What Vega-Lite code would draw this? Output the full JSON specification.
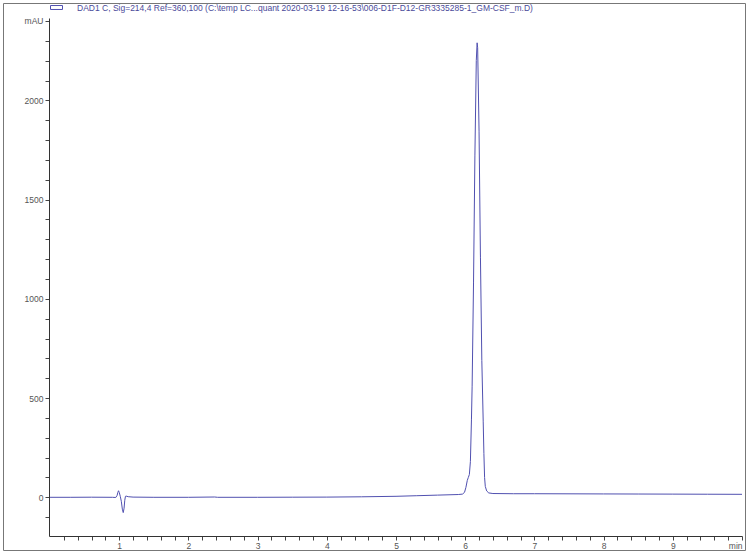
{
  "$schema": "https://vega.github.io/schema/vega-lite/v6.json",
  "width": 742,
  "height": 547,
  "autosize": {"type": "none"},
  "padding": {"left": 3, "top": 3, "right": 5, "bottom": 3},
  "background": "white",
  "config": {
    "view": {"stroke": "#777777", "strokeWidth": 1},
    "font": "Liberation Sans"
  },
  "data": {
    "values": [
      {"t": 0, "mAU": 0}, {"t": 0.3, "mAU": 0}, {"t": 0.6, "mAU": 0.5}, {"t": 0.9, "mAU": 0},
      {"t": 0.95, "mAU": -1}, {"t": 0.97, "mAU": 10}, {"t": 0.98, "mAU": 25}, {"t": 0.99, "mAU": 33},
      {"t": 1.0, "mAU": 25}, {"t": 1.015, "mAU": 5}, {"t": 1.03, "mAU": -20}, {"t": 1.045, "mAU": -60},
      {"t": 1.058, "mAU": -77}, {"t": 1.07, "mAU": -55}, {"t": 1.08, "mAU": -15}, {"t": 1.09, "mAU": 5},
      {"t": 1.1, "mAU": 6}, {"t": 1.13, "mAU": 3}, {"t": 1.2, "mAU": 1}, {"t": 1.5, "mAU": 0},
      {"t": 2.0, "mAU": 0}, {"t": 2.38, "mAU": 1.5}, {"t": 2.42, "mAU": 0}, {"t": 3.0, "mAU": 0},
      {"t": 3.5, "mAU": 0.5}, {"t": 4.0, "mAU": 1}, {"t": 4.5, "mAU": 2.5}, {"t": 5.0, "mAU": 5},
      {"t": 5.3, "mAU": 8}, {"t": 5.6, "mAU": 11}, {"t": 5.9, "mAU": 14}, {"t": 5.96, "mAU": 16},
      {"t": 5.99, "mAU": 25}, {"t": 6.01, "mAU": 50}, {"t": 6.03, "mAU": 85}, {"t": 6.045, "mAU": 100},
      {"t": 6.06, "mAU": 115}, {"t": 6.075, "mAU": 180}, {"t": 6.09, "mAU": 390}, {"t": 6.1, "mAU": 560},
      {"t": 6.12, "mAU": 1080}, {"t": 6.14, "mAU": 1720}, {"t": 6.16, "mAU": 2200}, {"t": 6.172, "mAU": 2290},
      {"t": 6.18, "mAU": 2265}, {"t": 6.2, "mAU": 1845}, {"t": 6.22, "mAU": 1210}, {"t": 6.24, "mAU": 690},
      {"t": 6.26, "mAU": 380}, {"t": 6.27, "mAU": 220}, {"t": 6.28, "mAU": 100}, {"t": 6.29, "mAU": 55},
      {"t": 6.31, "mAU": 32}, {"t": 6.34, "mAU": 22}, {"t": 6.4, "mAU": 19}, {"t": 6.7, "mAU": 18},
      {"t": 7.0, "mAU": 18}, {"t": 7.5, "mAU": 17.5}, {"t": 8.0, "mAU": 17}, {"t": 8.5, "mAU": 16.5},
      {"t": 9.0, "mAU": 16}, {"t": 9.5, "mAU": 15.5}, {"t": 10.0, "mAU": 15}
    ]
  },
  "mark": {"type": "line", "strokeWidth": 1, "interpolate": "linear"},
  "encoding": {
    "x": {
      "field": "t",
      "type": "quantitative",
      "scale": {"domain": [-0.015, 10.0], "range": [46, 739], "nice": false, "zero": false},
      "axis": {
        "title": null,
        "offset": -14,
        "grid": false,
        "values": [0.2,0.4,0.6,0.8,1,1.2,1.4,1.6,1.8,2,2.2,2.4,2.6,2.8,3,3.2,3.4,3.6,3.8,4,4.2,4.4,4.6,4.8,5,5.2,5.4,5.6,5.8,6,6.2,6.4,6.6,6.8,7,7.2,7.4,7.6,7.8,8,8.2,8.4,8.6,8.8,9,9.2,9.4,9.6,9.8,10],
        "labelExpr": "datum.value == 10 ? 'min' : (abs(datum.value - round(datum.value)) < 0.001 ? format(datum.value, 'd') : '')",
        "labelAlign": {"expr": "datum.value == 10 ? 'right' : 'center'"},
        "labelFlush": false,
        "labelOverlap": false,
        "tickSize": 4,
        "labelPadding": 1,
        "labelFontSize": 8.5,
        "labelColor": "#555555",
        "domainColor": "#333333",
        "tickColor": "#444444"
      }
    },
    "y": {
      "field": "mAU",
      "type": "quantitative",
      "scale": {"domain": [-195, 2415], "range": [533, 15], "nice": false, "zero": false},
      "axis": {
        "title": null,
        "offset": -46,
        "grid": false,
        "values": [-100,0,100,200,300,400,500,600,700,800,900,1000,1100,1200,1300,1400,1500,1600,1700,1800,1900,2000,2100,2200,2300,2400],
        "labelExpr": "datum.value == 2400 ? 'mAU' : (datum.value % 500 == 0 ? format(datum.value, 'd') : '')",
        "labelOverlap": false,
        "labelFlush": false,
        "tickSize": 4,
        "labelPadding": 2,
        "labelFontSize": 8.5,
        "labelColor": "#555555",
        "domainColor": "#333333",
        "tickColor": "#444444"
      }
    },
    "color": {
      "datum": "DAD1 C, Sig=214,4 Ref=360,100 (C:\\temp LC...quant 2020-03-19 12-16-53\\006-D1F-D12-GR3335285-1_GM-CSF_m.D)",
      "type": "nominal",
      "scale": {"range": ["#5050b0"]},
      "legend": {
        "title": null,
        "orient": "none",
        "legendX": 47,
        "legendY": -2,
        "padding": 0,
        "symbolType": "M-1,-0.33H1V0.33H-1Z",
        "symbolSize": 144,
        "symbolStrokeWidth": 1,
        "symbolFillColor": "transparent",
        "labelFontSize": 8.5,
        "labelColor": "#4a4a9a",
        "labelLimit": 700,
        "labelOffset": 14
      }
    }
  }
}
